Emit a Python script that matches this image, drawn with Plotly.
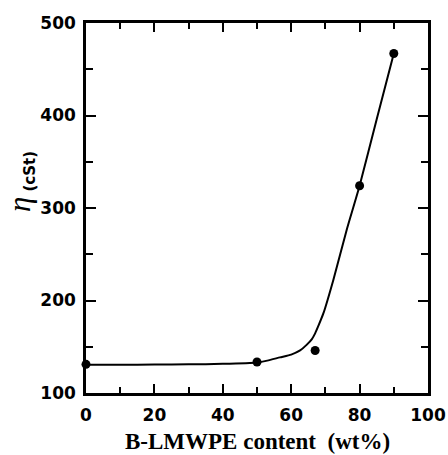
import plotly.graph_objects as go

# measured points
x_data = [0, 50, 67, 80, 90]
y_data = [131, 133.5, 146, 324, 467]

# smooth fitted curve as drawn
x_fit = [0, 10, 20, 30, 40, 50, 53, 56.7, 60, 62.6, 64.5, 66, 67, 68, 69.4, 72.3, 76.2, 80, 85, 90]
y_fit = [130.5, 130.5, 130.7, 131, 131.5, 133, 135, 138.5, 141.5, 146, 152, 158, 164.5, 173, 186, 222, 276, 324, 396, 467]

x_ticks = [0, 20, 40, 60, 80, 100]
y_ticks = [100, 200, 300, 400, 500]

fig = go.Figure()
fig.add_trace(go.Scatter(x=x_fit, y=y_fit, mode="lines",
                         line=dict(color="black", width=2, shape="spline", smoothing=0.6),
                         showlegend=False, hoverinfo="skip"))
fig.add_trace(go.Scatter(x=x_data, y=y_data, mode="markers",
                         marker=dict(color="black", size=9),
                         showlegend=False, cliponaxis=False))

tickfont = dict(family="DejaVu Sans", size=17, color="black", weight="bold")
fig.update_xaxes(range=[0, 100], tickvals=x_ticks, ticks="inside", ticklen=9, tickwidth=2,
                 tickcolor="black", showline=True, linewidth=2.5, linecolor="black",
                 mirror="ticks", showgrid=False, zeroline=False, tickfont=tickfont,
                 ticklabelstandoff=5, automargin=False,
                 minor=dict(dtick=10, ticks="inside", ticklen=6, tickwidth=2, tickcolor="black", showgrid=False))
fig.update_yaxes(range=[100, 500], tickvals=y_ticks, ticks="inside", ticklen=10, tickwidth=2,
                 tickcolor="black", showline=True, linewidth=2.5, linecolor="black",
                 mirror="ticks", showgrid=False, zeroline=False, tickfont=tickfont,
                 ticklabelstandoff=4, automargin=False,
                 minor=dict(dtick=50, ticks="inside", ticklen=7, tickwidth=2, tickcolor="black", showgrid=False))

# y-axis title: eta and unit
fig.add_annotation(xref="paper", yref="paper", x=-0.193, y=0.511, xanchor="center", yanchor="middle",
                   textangle=-90, showarrow=False, text="<i>η</i>",
                   font=dict(color="black", family="Liberation Serif", size=31))
fig.add_annotation(xref="paper", yref="paper", x=-0.165, y=0.60, xanchor="center", yanchor="middle",
                   textangle=-90, showarrow=False, text="<b>(cSt)</b>",
                   font=dict(color="black", family="DejaVu Sans", size=15))
fig.add_annotation(xref="paper", yref="paper", x=0.5, y=-0.13, xanchor="center", yanchor="middle",
                   showarrow=False, text="<b>B-LMWPE content  (wt%)</b>",
                   font=dict(family="Liberation Serif", size=23, color="black"))

fig.update_layout(width=448, height=455, margin=dict(l=86, r=20, t=23, b=62, autoexpand=False),
                  plot_bgcolor="white", paper_bgcolor="white")
fig.write_html("out.html")
